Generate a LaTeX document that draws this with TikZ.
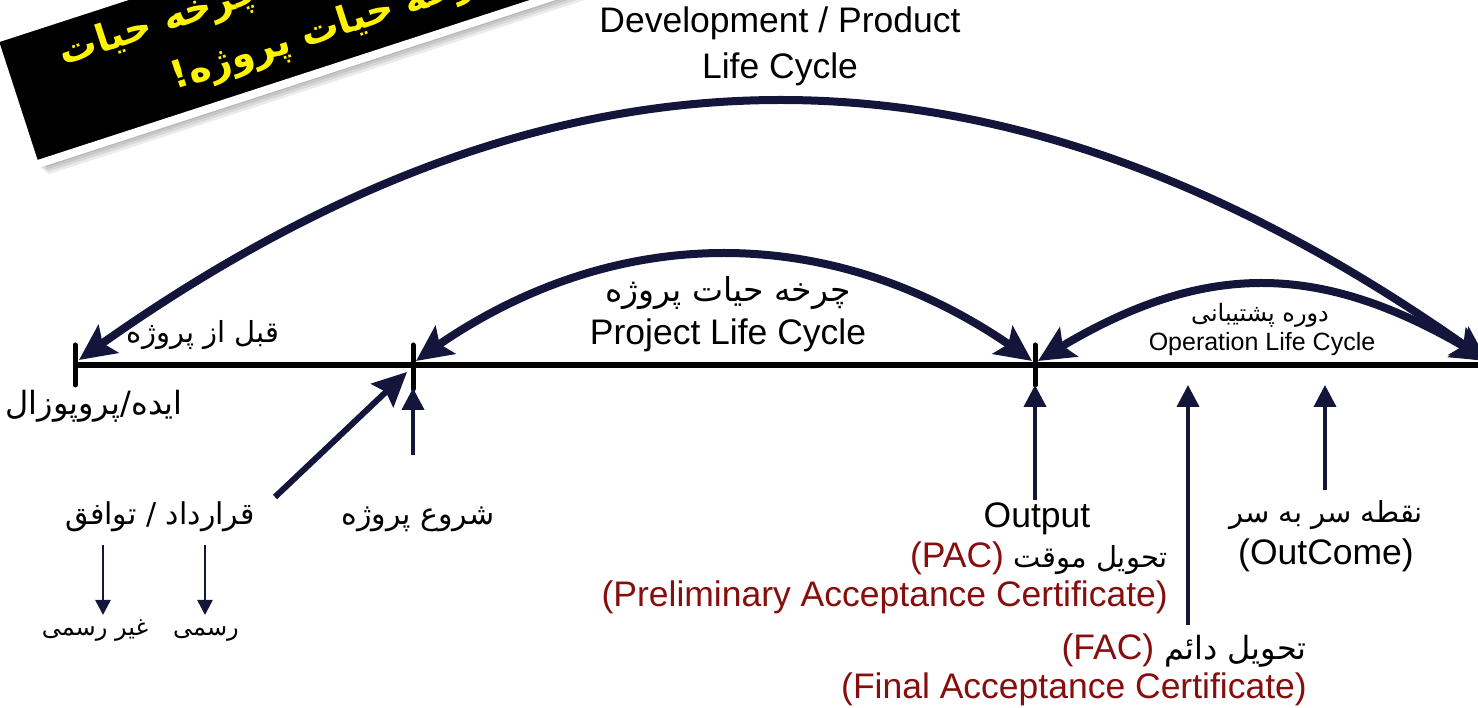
\documentclass[tikz,border=0pt]{standalone}
\usepackage{fontspec}
\setmainfont{Liberation Sans}
\newfontfamily\fa[Script=Arabic]{DejaVu Sans}
\TeXXeTstate=1
\usetikzlibrary{arrows.meta,bending}
\definecolor{navy}{RGB}{19,21,58}
\definecolor{dred}{RGB}{135,14,14}
\definecolor{byellow}{RGB}{255,244,0}
\newcommand{\fasize}[1]{\fa\fontsize{#1}{#1}\selectfont}
\tikzset{
  en/.style={font=\fontsize{35.5}{40}\selectfont, inner sep=0pt, anchor=base, text=black},
  ensmall/.style={font=\fontsize{25}{28}\selectfont, inner sep=0pt, anchor=base, text=black},
  fa/.style={font=\fasize{29}, inner sep=0pt, anchor=base, text=black},
  fasmall/.style={font=\fasize{24}, inner sep=0pt, anchor=base, text=black},
  bannertxt/.style={font=\fa\bfseries\fontsize{38}{42}\selectfont, inner sep=0pt, anchor=base west, text=byellow, transform shape},
  axis/.style={line width=6pt, black},
  tickmark/.style={line width=5pt, black, line cap=round},
  bigarc/.style={navy, line width=8pt, {Stealth[length=36pt,width=34pt,inset=7pt]}-{Stealth[length=36pt,width=34pt,inset=7pt]}},
  uparrow/.style={navy, line width=4pt, -{Triangle[length=22pt,width=22pt]}},
  diagarrow/.style={navy, line width=6pt, -{Stealth[length=34pt,width=32pt,inset=5pt]}},
  smallarrow/.style={navy, line width=2.5pt, -{Triangle[length=15pt,width=15pt]}},
}
\begin{document}
\begin{tikzpicture}[x=1pt,y=1pt]
\useasboundingbox (0,0) rectangle (1478,707);
\clip (0,0) rectangle (1478,707);
\fill[white] (0,0) rectangle (1478,707);

% ---------- banner ----------
\begin{scope}[shift={(35,542)},rotate=18]
  \foreach \d in {2,4,6,8,10}
    \fill[black,opacity=.08] (\d,-1.3*\d) rectangle (800+\d,132-1.3*\d);
  \draw[white,line width=8pt,fill=black] (0,0) rectangle (800,132);
  \node[bannertxt] (bannerA) at (58,86) {\beginR چرخه حیات محصول یا چرخه حیات\endR};
  \node[bannertxt] (bannerB) at (157,28) {\beginR توسعه با چرخه حیات پروژه!\endR};
\end{scope}

% ---------- time line ----------
\coordinate (tA) at (75,342);
\coordinate (tB) at (413,342);
\coordinate (tC) at (1035,342);
\coordinate (tEnd) at (1478,342);
\draw[axis] (tA) -- (tEnd);
\draw[tickmark] ([yshift=20pt]tA) -- ([yshift=-20pt]tA);
\draw[tickmark] ([yshift=20pt]tB) -- ([yshift=-24pt]tB);
\draw[tickmark] ([yshift=20pt]tC) -- ([yshift=-20pt]tC);

% ---------- arcs ----------
\coordinate (bigL) at (79,347);
\coordinate (bigR) at (1488,345);
\draw[bigarc] (bigR) .. controls (1006,694) and (556,694) .. (bigL);
\coordinate (pL) at (416,346);
\coordinate (pR) at (1032,346);
\draw[bigarc] (pL) .. controls (607,490) and (841,490) .. (pR);
\coordinate (oL) at (1038,346);
\coordinate (oR) at (1488,346);
\draw[bigarc] (oL) .. controls (1200,450) and (1322,450) .. (oR);

% ---------- arrows ----------
\coordinate (sB) at (413,252);
\coordinate (eB) at (413,319);
\draw[uparrow] (sB) -- (eB);
\coordinate (sC) at (1035,207);
\coordinate (eC) at (1035,322);
\draw[uparrow] (sC) -- (eC);
\coordinate (sF) at (1188,82);
\coordinate (eF) at (1188,322);
\draw[uparrow] (sF) -- (eF);
\coordinate (sO) at (1325,217);
\coordinate (eO) at (1325,322);
\draw[uparrow] (sO) -- (eO);
\coordinate (sD) at (275,210);
\coordinate (eD) at (407,335);
\draw[diagarrow] (sD) -- (eD);
\coordinate (sI) at (103,162);
\coordinate (eI) at (103,92);
\draw[smallarrow] (sI) -- (eI);
\coordinate (sR) at (205,162);
\coordinate (eR) at (205,92);
\draw[smallarrow] (sR) -- (eR);

% ---------- labels ----------
\node[en] (dev1) at (780,674) {Development / Product};
\node[en] (dev2) at (780,628) {Life Cycle};
\node[fa] (pre) at (203,364) {\beginR قبل از پروژه\endR};
\node[fa,font=\fasize{33}] (plcfa) at (728,405) {\beginR چرخه حیات پروژه\endR};
\node[en] (plc) at (728,362) {Project Life Cycle};
\node[fasmall] (olcfa) at (1260,385) {\beginR دوره پشتیبانی\endR};
\node[ensmall] (olc) at (1262,356) {Operation Life Cycle};
\node[fa,font=\fasize{32}] (idea) at (94,292) {\beginR ایده/پروپوزال\endR};
\node[fa,font=\fasize{30}] (contract) at (160,182) {\beginR قرارداد / توافق\endR};
\node[fa,font=\fasize{30}] (start) at (418,182) {\beginR شروع پروژه\endR};
\node[fasmall] (informal) at (95,71) {\beginR غیر رسمی\endR};
\node[fasmall] (formal) at (206,71) {\beginR رسمی\endR};
\node[en] (output) at (1037,179) {Output};
\node[en,anchor=base east] (pac) at (1168,139) {\textcolor{dred}{(PAC)} {\fasize{29}\beginR تحویل موقت\endR}};
\node[en,anchor=base east,text=dred] (pacfull) at (1168,100) {(Preliminary Acceptance Certificate)};
\node[en,anchor=base east] (fac) at (1307,47) {\textcolor{dred}{(FAC)} {\fasize{32}\beginR تحویل دائم\endR}};
\node[en,anchor=base east,text=dred] (facfull) at (1307,9) {(Final Acceptance Certificate)};
\node[fa] (breakeven) at (1326,184) {\beginR نقطه سر به سر\endR};
\node[en] (outcome) at (1326,142) {(OutCome)};
\end{tikzpicture}
\end{document}
